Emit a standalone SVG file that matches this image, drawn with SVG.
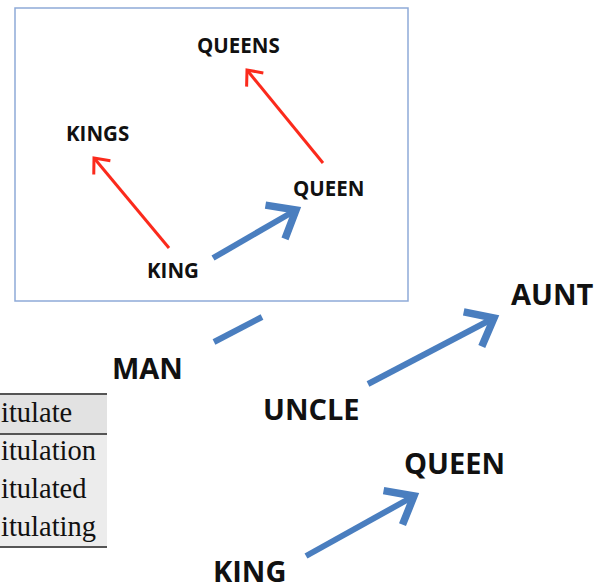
<svg xmlns="http://www.w3.org/2000/svg" width="601" height="586" viewBox="0 0 601 586">
<style>
.lbl{font-family:"Open Sans","Noto Sans",sans-serif;font-weight:bold;fill:#111}
.in{font-size:20.5px}
.out{font-size:29px}
.tbl{font-family:"Liberation Serif","Times New Roman",serif;font-size:28.5px;fill:#111}
.red{stroke:#fb2a1c;stroke-width:3;fill:none;marker-end:url(#mr)}
.blue{stroke:#4a7ebf;stroke-width:6;fill:none}
.ba{marker-end:url(#mb)}
</style>
<defs>
<marker id="mr" markerUnits="strokeWidth" markerWidth="10" markerHeight="10" viewBox="-6 -5 8 10" refX="0" refY="0" orient="auto" overflow="visible">
<path d="M-4.2,-3.6 L0,0 L-4.2,3.6" fill="none" stroke="#fb2a1c" stroke-width="1"/>
</marker>
<marker id="mb" markerUnits="strokeWidth" markerWidth="10" markerHeight="10" viewBox="-5 -4 7 8" refX="0" refY="0" orient="auto" overflow="visible">
<path d="M-3.2,-2.6 L0,0 L-3.2,2.6" fill="none" stroke="#4a7ebf" stroke-width="1"/>
</marker>
</defs>
<rect width="601" height="586" fill="#fff"/>
<g id="table">
<rect x="0" y="394" width="107" height="153" fill="#ececec"/>
<rect x="0" y="394" width="107" height="40" fill="#e2e2e2"/>
<line x1="0" y1="394" x2="107" y2="394" stroke="#555" stroke-width="2"/>
<line x1="0" y1="434" x2="107" y2="434" stroke="#555" stroke-width="2"/>
<line x1="0" y1="547" x2="107" y2="547" stroke="#555" stroke-width="2"/>
<text class="tbl" x="1" y="422">itulate</text>
<text class="tbl" x="1" y="460">itulation</text>
<text class="tbl" x="1" y="498">itulated</text>
<text class="tbl" x="1" y="536">itulating</text>
</g>
<g id="connectors">
<line class="blue" x1="214" y1="342" x2="262" y2="317"/>
<line class="blue ba" x1="368" y1="384" x2="494" y2="318"/>
<line class="blue ba" x1="306" y1="556" x2="414" y2="496"/>
</g>
<g id="man"><text class="lbl out" x="112" y="379">MAN</text></g>
<g id="aunt"><text class="lbl out" x="511" y="305">AUNT</text></g>
<g id="uncle"><text class="lbl out" x="263" y="420">UNCLE</text></g>
<g id="queen-outer"><text class="lbl out" x="404" y="474">QUEEN</text></g>
<g id="king-outer"><text class="lbl out" x="213" y="582">KING</text></g>
<g id="inset">
<rect x="15" y="8" width="393" height="293" fill="#fff" stroke="#8eaad8" stroke-width="1.5"/>
<g id="inset-connectors">
<line class="red" x1="169" y1="248" x2="94" y2="158"/>
<line class="red" x1="323" y1="163" x2="247" y2="70"/>
<line class="blue ba" x1="213" y1="258" x2="296" y2="210"/>
</g>
<g id="queens"><text class="lbl in" x="197" y="53">QUEENS</text></g>
<g id="kings"><text class="lbl in" x="66" y="141">KINGS</text></g>
<g id="queen-inner"><text class="lbl in" x="293" y="196">QUEEN</text></g>
<g id="king-inner"><text class="lbl in" x="147" y="278">KING</text></g>
</g>
</svg>
